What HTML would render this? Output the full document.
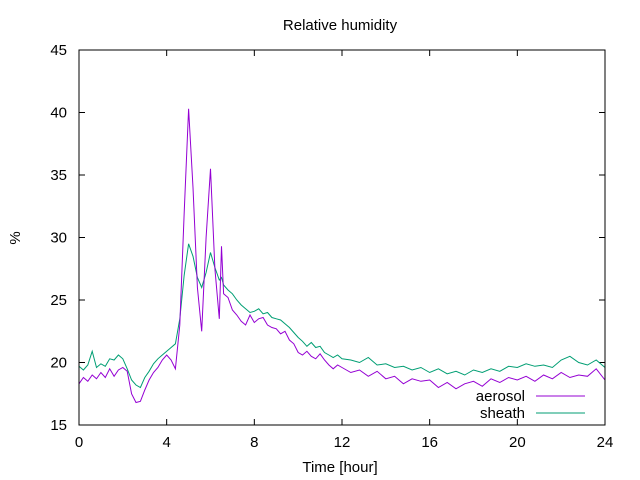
<!DOCTYPE html>
<html><head><meta charset="utf-8"><style>
body{margin:0;background:#fff}
svg{display:block;font-family:"Liberation Sans",sans-serif}
</style></head><body>
<svg id="chart" width="640" height="480" viewBox="0 0 640 480">
<rect x="0" y="0" width="640" height="480" fill="#fff"/>
<text x="340" y="30" font-size="15" text-anchor="middle">Relative humidity</text>
<text transform="translate(20,238) rotate(-90)" font-size="15" text-anchor="middle">%</text>
<text x="340" y="472" font-size="15" text-anchor="middle">Time [hour]</text>
<g id="axes"></g>
<g id="series"></g>
<rect x="79" y="50" width="526" height="375" fill="none" stroke="#000" stroke-width="1"/>
<text x="525" y="401" font-size="15" text-anchor="end">aerosol</text>
<line x1="536" y1="396" x2="585" y2="396" stroke="#9400d3" stroke-width="1"/>
<text x="525" y="418" font-size="15" text-anchor="end">sheath</text>
<line x1="536" y1="413" x2="585" y2="413" stroke="#009e73" stroke-width="1"/>
</svg>
<script>
const xTicks=[0,4,8,12,16,20,24];
const yTicks=[15,20,25,30,35,40,45];
const times=[0,0.2,0.4,0.6,0.8,1,1.2,1.4,1.6,1.8,2,2.2,2.4,2.6,2.8,3,3.2,3.4,3.6,3.8,4,4.2,4.4,4.6,4.8,5,5.2,5.4,5.6,5.8,6,6.2,6.4,6.5,6.6,6.8,7,7.2,7.4,7.6,7.8,8,8.2,8.4,8.6,8.8,9,9.2,9.4,9.6,9.8,10,10.2,10.4,10.6,10.8,11,11.2,11.4,11.6,11.8,12,12.4,12.8,13.2,13.6,14,14.4,14.8,15.2,15.6,16,16.4,16.8,17.2,17.6,18,18.4,18.8,19.2,19.6,20,20.4,20.8,21.2,21.6,22,22.4,22.8,23.2,23.6,24];
const aerosol=[18.3,18.8,18.5,19.0,18.7,19.2,18.8,19.5,18.9,19.4,19.6,19.3,17.5,16.8,16.9,17.8,18.6,19.2,19.6,20.2,20.6,20.2,19.5,23,32,40.3,34,26,22.5,30,35.5,27.5,23.5,29.3,25.5,25.2,24.2,23.8,23.3,23.0,23.8,23.2,23.5,23.6,23.0,22.8,22.7,22.3,22.5,21.8,21.5,20.8,20.6,20.9,20.5,20.3,20.7,20.2,19.8,19.5,19.8,19.6,19.2,19.4,18.9,19.3,18.7,18.9,18.3,18.7,18.5,18.6,18.0,18.4,17.9,18.3,18.5,18.1,18.7,18.4,18.8,18.6,18.9,18.5,19.0,18.7,19.2,18.8,19.0,18.9,19.5,18.6];
const sheath=[19.7,19.4,19.8,20.9,19.6,19.9,19.7,20.3,20.2,20.6,20.3,19.5,18.6,18.2,18.0,18.8,19.3,19.9,20.3,20.6,20.9,21.2,21.5,23.5,27,29.5,28.5,26.8,26.0,27.2,28.8,27.6,26.6,26.8,26.2,25.8,25.5,25.0,24.6,24.3,24.0,24.1,24.3,23.9,24.0,23.6,23.5,23.4,23.1,22.8,22.4,22.0,21.7,21.3,21.6,21.2,21.3,20.8,20.6,20.4,20.6,20.3,20.2,20.0,20.4,19.8,19.9,19.6,19.7,19.4,19.6,19.2,19.5,19.1,19.3,19.0,19.4,19.2,19.5,19.3,19.7,19.6,19.9,19.7,19.8,19.6,20.2,20.5,20.0,19.8,20.2,19.6];
const X0=79,X1=605,Y0=425,Y1=50;
const sx=t=>X0+(t-0)/24*(X1-X0);
const sy=v=>Y0-(v-15)/30*(Y0-Y1);
const NS="http://www.w3.org/2000/svg";
const axes=document.getElementById('axes');
function mk(tag,attrs,parent){const e=document.createElementNS(NS,tag);for(const k in attrs)e.setAttribute(k,attrs[k]);parent.appendChild(e);return e;}
xTicks.forEach(t=>{
 const x=sx(t);
 const l=mk('path',{d:`M${x},${Y0}v-6M${x},${Y1}v6`,stroke:'#000','stroke-width':1},axes);
 
 
 const tx=mk('text',{x:x,y:447,'font-size':15,'text-anchor':'middle'},axes);
 tx.textContent=t;
 
 
});
yTicks.forEach(v=>{
 const y=sy(v);
 const l=mk('path',{d:`M${X0},${y}h6M${X1},${y}h-6`,stroke:'#000','stroke-width':1},axes);
 
 
 const tx=mk('text',{x:67,y:y+5,'font-size':15,'text-anchor':'end'},axes);
 tx.textContent=v;
 
 
});
const ser=document.getElementById('series');
function line(vals,color,name){
 const pts=times.map((t,i)=>sx(t).toFixed(1)+','+sy(vals[i]).toFixed(1)).join(' ');
 const p=mk('polyline',{points:pts,fill:'none',stroke:color,'stroke-width':1},ser);
 
 
}
line(sheath,'#009e73','sheath-line');
line(aerosol,'#9400d3','aerosol-line');
</script>
</body></html>
